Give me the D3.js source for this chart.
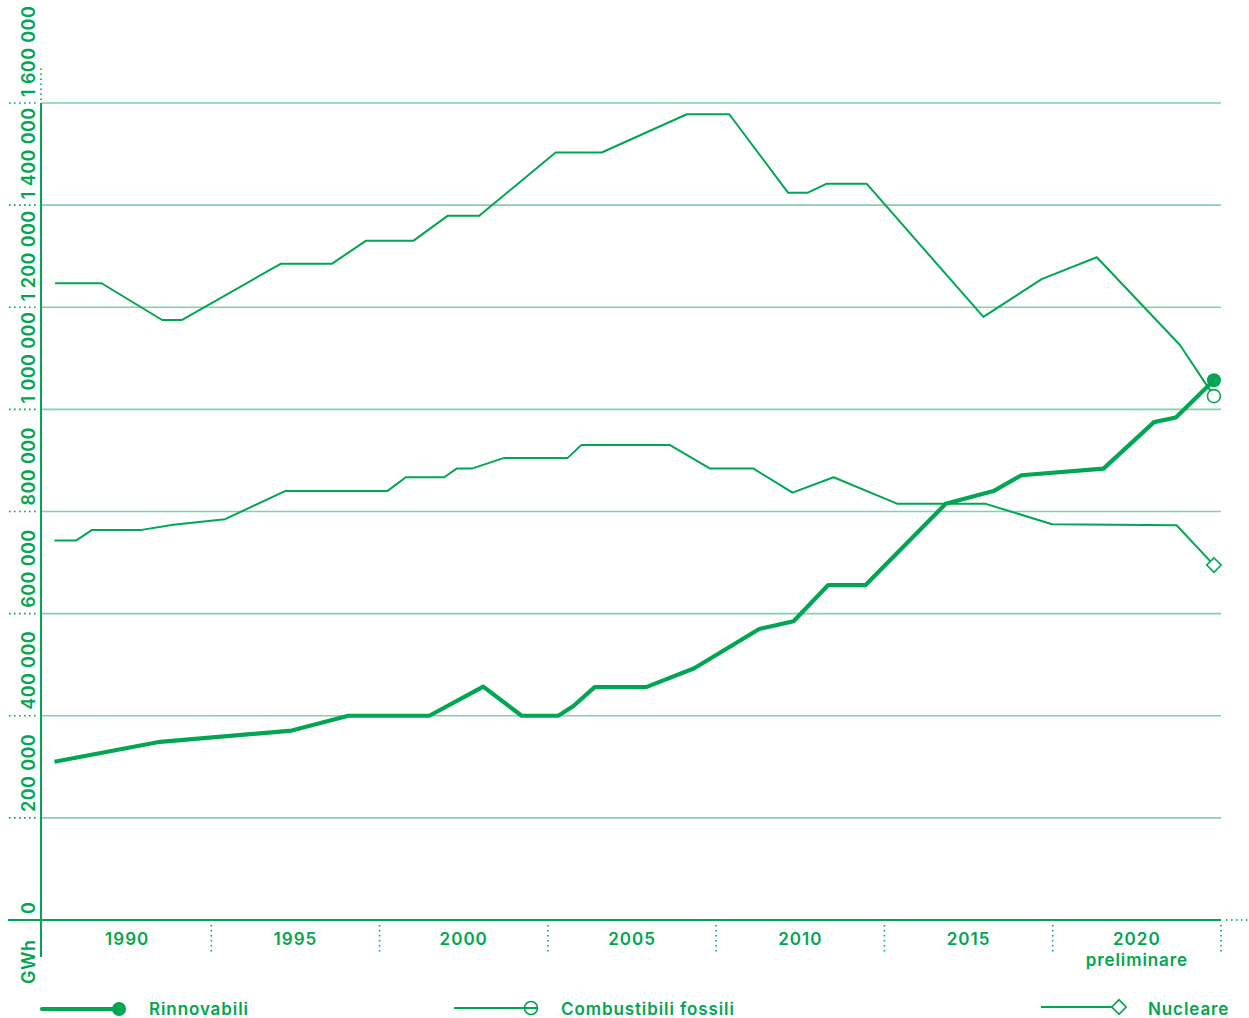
<!DOCTYPE html>
<html>
<head>
<meta charset="utf-8">
<script src="https://cdn.jsdelivr.net/npm/d3@7"></script>
<style>
  html, body { margin: 0; padding: 0; background: #fff; }
  svg { display: block; }
  text { font-family: Inter, "Noto Sans", sans-serif; fill: #00A651; }
</style>
</head>
<body>
<svg id="chart" width="1249" height="1018"></svg>
<script>
// ---- Data ----
const renewYears  = [1987.84, 1990.98, 1994.89, 1996.57, 1998.98, 2000.58, 2001.72, 2002.81, 2003.26, 2003.89, 2005.42, 2006.85, 2008.78, 2009.80, 2010.83, 2011.94, 2014.32, 2015.74, 2016.57, 2019.01, 2020.51, 2021.16, 2022.29];
const renewValues = [310000, 349000, 371000, 400000, 400000, 457000, 400000, 400000, 419000, 456000, 456000, 493000, 570000, 585000, 656000, 656000, 815000, 840000, 871000, 884000, 975000, 984000, 1057000];

const fossilYears  = [1987.86, 1989.24, 1991.04, 1991.62, 1994.56, 1996.08, 1997.09, 1998.50, 1999.52, 2000.46, 2002.73, 2004.10, 2006.63, 2007.89, 2009.64, 2010.21, 2010.79, 2011.97, 2015.44, 2017.17, 2018.81, 2021.28, 2022.29];
const fossilValues = [1247000, 1247000, 1175000, 1175000, 1285000, 1285000, 1330000, 1330000, 1379000, 1379000, 1503000, 1503000, 1578000, 1578000, 1424000, 1424000, 1442000, 1442000, 1181000, 1255000, 1298000, 1126000, 1026000];

const nuclearYears  = [1987.84, 1988.48, 1988.96, 1990.43, 1991.37, 1992.91, 1994.69, 1997.73, 1998.28, 1999.42, 1999.79, 2000.24, 2001.20, 2003.09, 2003.49, 2006.13, 2007.32, 2008.61, 2009.77, 2010.99, 2012.89, 2015.51, 2017.48, 2021.18, 2022.29];
const nuclearValues = [743000, 743000, 764000, 764000, 774000, 785000, 840000, 840000, 867000, 867000, 884000, 884000, 905000, 905000, 930000, 930000, 884000, 884000, 837000, 867000, 815000, 815000, 775000, 773000, 695000];

const yTicks = [0, 200000, 400000, 600000, 800000, 1000000, 1200000, 1400000, 1600000];
const xLabelYears = [1990, 1995, 2000, 2005, 2010, 2015, 2020];
const xSeparatorYears = [1992.5, 1997.5, 2002.5, 2007.5, 2012.5, 2017.5, 2022.5];
const seriesNames = ["Rinnovabili", "Combustibili fossili", "Nucleare"];

// ---- Drawing ----
const GREEN = "#00A651";
const GRID = "#80D2A8";
const svg = d3.select("#chart");

const x = d3.scaleLinear().domain([1987.5, 2022.5]).range([43, 1221]);
const y = d3.scaleLinear().domain([0, 1600000]).range([920, 103]);
const fmt = v => d3.format(",")(v).replace(/,/g, " ");

// gridlines
svg.append("g").selectAll("line").data(yTicks.filter(d => d > 0)).join("line")
  .attr("x1", 41).attr("x2", x(2022.5))
  .attr("y1", d => y(d)).attr("y2", d => y(d))
  .attr("stroke", GRID).attr("stroke-width", 1.6);

// dotted tick marks left of y axis
svg.append("g").selectAll("line").data(yTicks.filter(d => d > 0)).join("line")
  .attr("x1", 9).attr("x2", 39)
  .attr("y1", d => y(d)).attr("y2", d => y(d))
  .attr("stroke", GREEN).attr("stroke-width", 1.6).attr("stroke-dasharray", "1.6,3.4");

// vertical dotted extension at top of y axis
svg.append("line").attr("x1", 41).attr("x2", 41)
  .attr("y1", y(1600000) - 3).attr("y2", y(1600000) - 35)
  .attr("stroke", GREEN).attr("stroke-width", 1.6).attr("stroke-dasharray", "1.6,3.4");

// y axis line
svg.append("line").attr("x1", 41).attr("x2", 41)
  .attr("y1", y(1600000)).attr("y2", 957)
  .attr("stroke", GREEN).attr("stroke-width", 2);

// x axis baseline
svg.append("line").attr("x1", 8).attr("x2", x(2022.5))
  .attr("y1", y(0)).attr("y2", y(0))
  .attr("stroke", GREEN).attr("stroke-width", 2);
svg.append("line").attr("x1", x(2022.5) + 5).attr("x2", 1249)
  .attr("y1", y(0)).attr("y2", y(0))
  .attr("stroke", GREEN).attr("stroke-width", 1.6).attr("stroke-dasharray", "1.6,3.4");

// separators below x axis
svg.append("g").selectAll("line").data(xSeparatorYears).join("line")
  .attr("x1", d => x(d)).attr("x2", d => x(d))
  .attr("y1", 925).attr("y2", 954)
  .attr("stroke", GREEN).attr("stroke-width", 1.6).attr("stroke-dasharray", "1.6,3.4");

// y tick labels (rotated)
svg.append("g").selectAll("text").data(yTicks).join("text")
  .attr("transform", d => `translate(35,${y(d) - 6}) rotate(-90)`)
  .attr("text-anchor", "start")
  .attr("font-size", 18).attr("font-weight", 600).attr("letter-spacing", 0.4)
  .text(d => fmt(d));

// unit label
svg.append("text")
  .attr("transform", `translate(35,984) rotate(-90)`)
  .attr("text-anchor", "start")
  .attr("font-size", 18).attr("font-weight", 600).attr("letter-spacing", 0.6)
  .text("GWh");

// x labels
svg.append("g").selectAll("text").data(xLabelYears).join("text")
  .attr("x", d => x(d)).attr("y", 945)
  .attr("text-anchor", "middle")
  .attr("font-size", 17).attr("font-weight", 600).attr("letter-spacing", 1)
  .text(d => d);
svg.append("text").attr("x", x(2020)).attr("y", 966)
  .attr("text-anchor", "middle")
  .attr("font-size", 17).attr("font-weight", 600).attr("letter-spacing", 0.9)
  .text("preliminare");

// lines
const line = d3.line().x(d => x(d[0])).y(d => y(d[1]));
const zip = (a, b) => a.map((v, i) => [v, b[i]]);

const fossil = zip(fossilYears, fossilValues);
const nuclear = zip(nuclearYears, nuclearValues);
const renew = zip(renewYears, renewValues);

svg.append("path").datum(fossil).attr("d", line)
  .attr("fill", "none").attr("stroke", GREEN).attr("stroke-width", 2).attr("stroke-linejoin", "round");
svg.append("path").datum(nuclear).attr("d", line)
  .attr("fill", "none").attr("stroke", GREEN).attr("stroke-width", 2).attr("stroke-linejoin", "round");
svg.append("path").datum(renew).attr("d", line)
  .attr("fill", "none").attr("stroke", GREEN).attr("stroke-width", 4.2).attr("stroke-linejoin", "round");

// end markers
const fl = fossil[fossil.length - 1];
svg.append("circle").attr("cx", x(fl[0])).attr("cy", y(fl[1])).attr("r", 6.5)
  .attr("fill", "#fff").attr("stroke", GREEN).attr("stroke-width", 1.6);
const nl = nuclear[nuclear.length - 1];
const diamond = d3.symbol().type(d3.symbolSquare).size(105);
svg.append("path").attr("d", diamond())
  .attr("transform", `translate(${x(nl[0])},${y(nl[1])}) rotate(45)`)
  .attr("fill", "#fff").attr("stroke", GREEN).attr("stroke-width", 1.6);
const rl = renew[renew.length - 1];
svg.append("circle").attr("cx", x(rl[0])).attr("cy", y(rl[1])).attr("r", 7)
  .attr("fill", GREEN);

// legend
const LY = 1009;
const lg = svg.append("g");
// Rinnovabili
lg.append("line").attr("x1", 42).attr("x2", 118).attr("y1", LY).attr("y2", LY)
  .attr("stroke", GREEN).attr("stroke-width", 4.2).attr("stroke-linecap", "round");
lg.append("circle").attr("cx", 119).attr("cy", LY).attr("r", 7).attr("fill", GREEN);
lg.append("text").attr("x", 149).attr("y", LY + 6).attr("font-size", 17).attr("font-weight", 600).attr("letter-spacing", 0.9).text(seriesNames[0]);
// Combustibili fossili
lg.append("line").attr("x1", 454).attr("x2", 538).attr("y1", LY - 1).attr("y2", LY - 1)
  .attr("stroke", GREEN).attr("stroke-width", 2);
lg.append("circle").attr("cx", 531).attr("cy", LY - 1).attr("r", 6.5)
  .attr("fill", "none").attr("stroke", GREEN).attr("stroke-width", 1.6);
lg.append("text").attr("x", 561).attr("y", LY + 6).attr("font-size", 17).attr("font-weight", 600).attr("letter-spacing", 0.9).text(seriesNames[1]);
// Nucleare
lg.append("line").attr("x1", 1041).attr("x2", 1112).attr("y1", LY - 2).attr("y2", LY - 2)
  .attr("stroke", GREEN).attr("stroke-width", 2);
lg.append("path").attr("d", diamond())
  .attr("transform", `translate(1119,${LY - 2}) rotate(45)`)
  .attr("fill", "#fff").attr("stroke", GREEN).attr("stroke-width", 1.6);
lg.append("text").attr("x", 1148).attr("y", LY + 6).attr("font-size", 17).attr("font-weight", 600).attr("letter-spacing", 0.9).text(seriesNames[2]);
</script>
</body>
</html>
